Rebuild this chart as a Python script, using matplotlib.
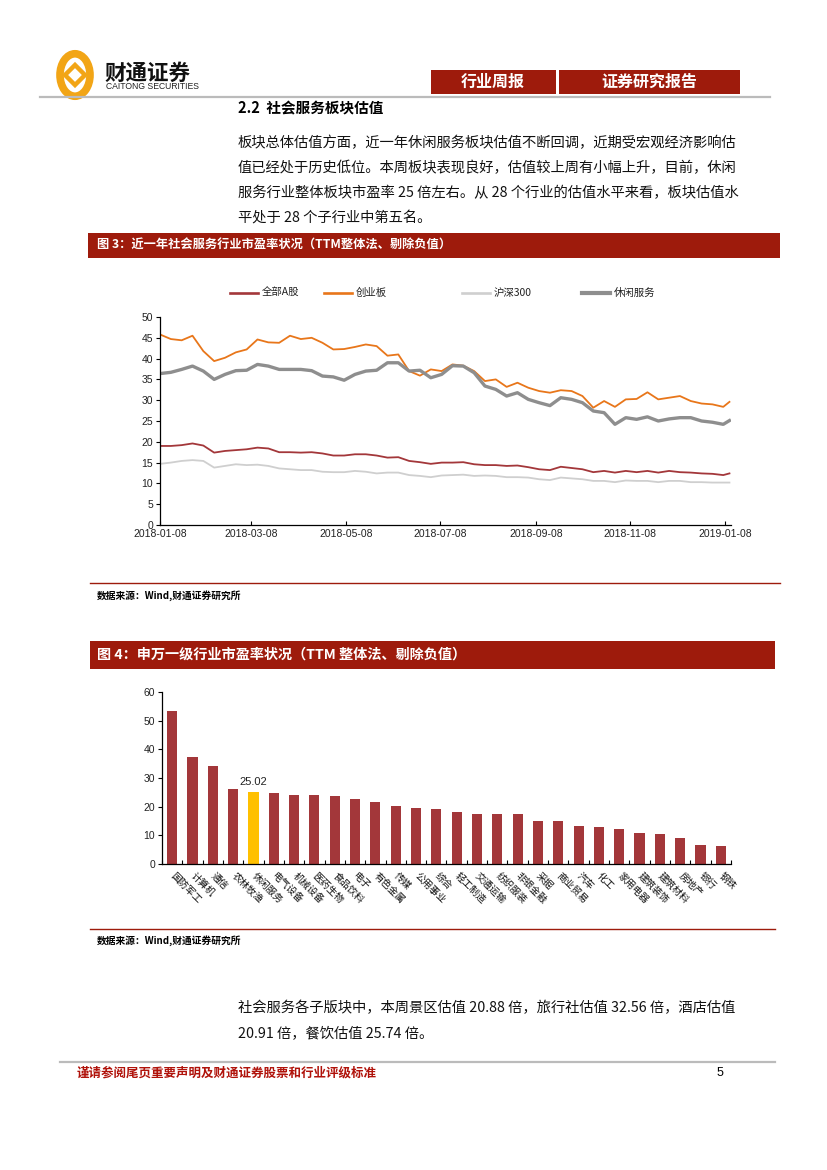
import matplotlib
matplotlib.use("Agg")
import matplotlib.pyplot as plt
import matplotlib.dates as mdates
from matplotlib.patches import Rectangle, Circle, Polygon
from matplotlib.lines import Line2D
import pandas as pd
import numpy as np

plt.rcParams['font.family'] = ['Noto Sans CJK SC', 'DejaVu Sans']
CJK = ['Noto Sans CJK SC', 'DejaVu Sans']
LAT = ['Liberation Sans', 'DejaVu Sans']

# ---------------- data: line chart (weekly readings) ----------------
series_names = ['全部A股', '创业板', '沪深300', '休闲服务']
dates = list(pd.date_range('2018-01-08', periods=53, freq='7D')) + [pd.Timestamp('2019-01-11')]

all_a = [19.0, 19.0, 19.2, 19.6, 19.1, 17.4, 17.8, 18.0, 18.2, 18.6, 18.4, 17.5, 17.5, 17.4,
         17.5, 17.2, 16.7, 16.7, 17.0, 17.0, 16.7, 16.2, 16.3, 15.4, 15.1, 14.7, 15.0, 15.0,
         15.1, 14.6, 14.4, 14.4, 14.2, 14.3, 13.9, 13.4, 13.2, 14.0, 13.7, 13.4, 12.7, 13.0,
         12.6, 13.0, 12.7, 13.0, 12.6, 13.0, 12.7, 12.6, 12.4, 12.3, 12.0, 12.4]
chinext = [45.8, 44.7, 44.4, 45.5, 41.8, 39.4, 40.2, 41.5, 42.2, 44.6, 43.9, 43.8, 45.5, 44.7,
           45.0, 43.8, 42.2, 42.3, 42.8, 43.4, 43.0, 40.7, 41.0, 37.0, 35.9, 37.4, 37.0, 38.6,
           38.3, 37.0, 34.6, 35.0, 33.2, 34.2, 33.0, 32.2, 31.8, 32.4, 32.2, 31.0, 28.2, 29.8,
           28.4, 30.2, 30.3, 31.9, 30.2, 30.6, 31.0, 29.8, 29.2, 29.0, 28.4, 29.6]
hs300 = [14.7, 15.0, 15.4, 15.6, 15.4, 13.8, 14.2, 14.6, 14.4, 14.5, 14.2, 13.6, 13.4, 13.2,
         13.2, 12.8, 12.7, 12.7, 13.0, 12.8, 12.4, 12.6, 12.6, 12.0, 11.8, 11.5, 11.9, 12.0,
         12.1, 11.8, 11.9, 11.8, 11.5, 11.5, 11.4, 11.0, 10.8, 11.4, 11.2, 11.0, 10.6, 10.6,
         10.3, 10.7, 10.6, 10.6, 10.3, 10.6, 10.6, 10.3, 10.3, 10.2, 10.2, 10.2]
leisure = [36.4, 36.7, 37.4, 38.2, 37.0, 35.0, 36.2, 37.1, 37.2, 38.6, 38.2, 37.4, 37.4, 37.4,
           37.1, 35.8, 35.6, 34.8, 36.2, 37.0, 37.2, 39.0, 39.0, 37.0, 37.2, 35.4, 36.2, 38.3,
           38.2, 36.6, 33.4, 32.6, 31.0, 31.8, 30.2, 29.4, 28.7, 30.6, 30.2, 29.4, 27.4, 27.0,
           24.2, 25.8, 25.4, 26.0, 25.0, 25.5, 25.8, 25.8, 25.0, 24.7, 24.2, 25.1]
line_colors = ['#A3373A', '#E8761A', '#CFCFCF', '#8E8E8E']
line_widths = [1.3, 1.3, 1.3, 2.4]
date_ticks = ['2018-01-08', '2018-03-08', '2018-05-08', '2018-07-08', '2018-09-08', '2018-11-08', '2019-01-08']

# ---------------- data: bar chart ----------------
industries = ['国防军工', '计算机', '通信', '农林牧渔', '休闲服务', '电气设备', '机械设备', '医药生物',
              '食品饮料', '电子', '有色金属', '传媒', '公用事业', '综合', '轻工制造', '交通运输',
              '纺织服装', '非银金融', '采掘', '商业贸易', '汽车', '化工', '家用电器', '建筑装饰',
              '建筑材料', '房地产', '银行', '钢铁']
pe_values = [53.3, 37.3, 34.3, 26.3, 25.02, 24.9, 24.2, 24.2, 23.8, 22.8, 21.6, 20.2, 19.5, 19.1,
             18.0, 17.6, 17.6, 17.3, 15.1, 15.1, 13.3, 13.0, 12.1, 10.7, 10.4, 8.9, 6.7, 6.3]
highlight = '休闲服务'

W, H = 827, 1170
fig = plt.figure(figsize=(W / 100, H / 100), dpi=100)
RED = '#9E1B0C'


def fx(x):
    return x / W


def fy(y):
    return 1 - y / H


def rect(x0, y0, x1, y1, color, **kw):
    fig.add_artist(Rectangle((fx(x0), fy(y1)), fx(x1) - fx(x0), fy(y0) - fy(y1),
                             transform=fig.transFigure, facecolor=color, edgecolor='none', **kw))


def hline(x0, x1, y, color, lw):
    fig.add_artist(Line2D([fx(x0), fx(x1)], [fy(y), fy(y)], transform=fig.transFigure,
                          color=color, lw=lw))


def text(x, y, s, **kw):
    kw.setdefault('family', CJK)
    fig.text(fx(x), fy(y), s, **kw)


# ---------------- header ----------------
lx, ly = 75, 75
fig.add_artist(Circle((fx(lx), fy(ly)), 15 / W, transform=fig.transFigure,
                      facecolor='none', edgecolor='#F2A516', lw=5.5))
diamond = [(lx - 10, ly), (lx, ly - 10), (lx + 10, ly), (lx, ly + 10)]
fig.add_artist(Polygon([(fx(a), fy(b)) for a, b in diamond], closed=True, transform=fig.transFigure,
                       facecolor='white', edgecolor='#F2A516', lw=3.2))
text(104, 80, '财通证券', fontsize=15.5, fontweight='bold', va='baseline', ha='left', color='#111111')
text(106, 89, 'CAITONG SECURITIES', fontsize=6.2, va='baseline', ha='left', family=LAT, color='#222222')

rect(431, 70, 556, 94, RED)
rect(559, 70, 740, 94, RED)
text(493, 82, '行业周报', fontsize=11.5, fontweight='bold', color='white', ha='center', va='center')
text(649, 82, '证券研究报告', fontsize=11.5, fontweight='bold', color='white', ha='center', va='center')
hline(40, 770, 97, '#BBBBBB', 1.6)

text(238, 108, '2.2  社会服务板块估值', fontsize=10.5, fontweight='bold', ha='left', va='center')

para1 = ['板块总体估值方面，近一年休闲服务板块估值不断回调，近期受宏观经济影响估',
         '值已经处于历史低位。本周板块表现良好，估值较上周有小幅上升，目前，休闲',
         '服务行业整体板块市盈率 25 倍左右。从 28 个行业的估值水平来看，板块估值水',
         '平处于 28 个子行业中第五名。']
for i, s in enumerate(para1):
    text(238, 143 + 25 * i, s, fontsize=10.3, ha='left', va='center', color='#111111')

# ---------------- figure 3 ----------------
rect(88, 233, 780, 258, RED)
text(97, 245.5, '图 3：近一年社会服务行业市盈率状况（TTM整体法、剔除负值）', fontsize=8.8,
     fontweight='bold', color='white', ha='left', va='center')

leg_x = [230, 324, 462, 582]
for name, c, lw, x0 in zip(series_names, line_colors, line_widths, leg_x):
    fig.add_artist(Line2D([fx(x0), fx(x0 + 28)], [fy(293), fy(293)], transform=fig.transFigure,
                          color=c, lw=lw + 0.6))
    text(x0 + 32, 293, name, fontsize=7.5, ha='left', va='center', color='#222222')

ax1 = fig.add_axes([fx(160), fy(525), fx(731) - fx(160), fy(317) - fy(525)])
for vals, c, lw in zip([all_a, chinext, hs300, leisure], line_colors, line_widths):
    ax1.plot(dates, vals, color=c, lw=lw, solid_joinstyle='round')
ax1.set_ylim(0, 50)
ax1.set_xlim(pd.Timestamp('2018-01-08'), pd.Timestamp('2019-01-12'))
ax1.set_yticks(range(0, 51, 5))
ax1.set_xticks([pd.Timestamp(d) for d in date_ticks])
ax1.xaxis.set_major_formatter(mdates.DateFormatter('%Y-%m-%d'))
for s in ['top', 'right']:
    ax1.spines[s].set_visible(False)
for s in ['left', 'bottom']:
    ax1.spines[s].set_linewidth(0.9)
ax1.tick_params(axis='y', direction='out', length=3, width=0.8, labelsize=7.5, pad=2)
ax1.tick_params(axis='x', direction='in', length=3, width=0.8, labelsize=7.5, pad=3)
for lab in ax1.get_xticklabels() + ax1.get_yticklabels():
    lab.set_family(LAT)
    lab.set_color('#222222')

hline(90, 780, 583, RED, 1.0)
text(97, 596, '数据来源：Wind,财通证券研究所', fontsize=7, fontweight='bold', ha='left', va='center')

# ---------------- figure 4 ----------------
rect(90, 641, 775, 669, RED)
text(97, 655, '图 4：申万一级行业市盈率状况（TTM 整体法、剔除负值）', fontsize=10.2,
     fontweight='bold', color='white', ha='left', va='center')

ax2 = fig.add_axes([fx(162), fy(864), fx(731) - fx(162), fy(692) - fy(864)])
xpos = np.arange(len(industries))
bar_colors = ['#FFC000' if n == highlight else '#A3373A' for n in industries]
ax2.bar(xpos, pe_values, width=0.5, color=bar_colors)
hi = industries.index(highlight)
ax2.annotate(f'{pe_values[hi]:.2f}', (xpos[hi], pe_values[hi]), xytext=(0, 4), textcoords='offset points',
             ha='center', va='bottom', fontsize=8, family=LAT, color='#222222')
ax2.set_xlim(-0.5, len(industries) - 0.5)
ax2.set_ylim(0, 60)
ax2.set_yticks(range(0, 61, 10))
ax2.set_xticks(xpos)
ax2.set_xticklabels(industries, rotation=-45, rotation_mode='anchor', ha='left', va='center',
                    fontsize=7, color='#111111')
ax2.set_xticks(np.arange(-0.5, len(industries), 1), minor=True)
ax2.tick_params(axis='x', which='major', length=0, pad=7)
ax2.tick_params(axis='x', which='minor', direction='in', length=3, width=0.8)
ax2.tick_params(axis='y', direction='out', length=3, width=0.8, labelsize=7.5, pad=2)
for lab in ax2.get_yticklabels():
    lab.set_family(LAT)
    lab.set_color('#222222')
for s in ['top', 'right']:
    ax2.spines[s].set_visible(False)
for s in ['left', 'bottom']:
    ax2.spines[s].set_linewidth(0.9)

hline(90, 775, 929, RED, 1.0)
text(97, 941, '数据来源：Wind,财通证券研究所', fontsize=7, fontweight='bold', ha='left', va='center')

para2 = ['社会服务各子版块中，本周景区估值 20.88 倍，旅行社估值 32.56 倍，酒店估值',
         '20.91 倍，餐饮估值 25.74 倍。']
for i, s in enumerate(para2):
    text(238, 1008 + 25 * i, s, fontsize=10.3, ha='left', va='center', color='#111111')

# ---------------- footer ----------------
hline(60, 775, 1062, '#BBBBBB', 1.6)
text(77, 1073, '谨请参阅尾页重要声明及财通证券股票和行业评级标准', fontsize=9, fontweight='bold',
     color='#B0120A', ha='left', va='center')
text(720, 1073, '5', fontsize=9, family=LAT, ha='center', va='center')

fig.savefig('out.png', dpi=100)
